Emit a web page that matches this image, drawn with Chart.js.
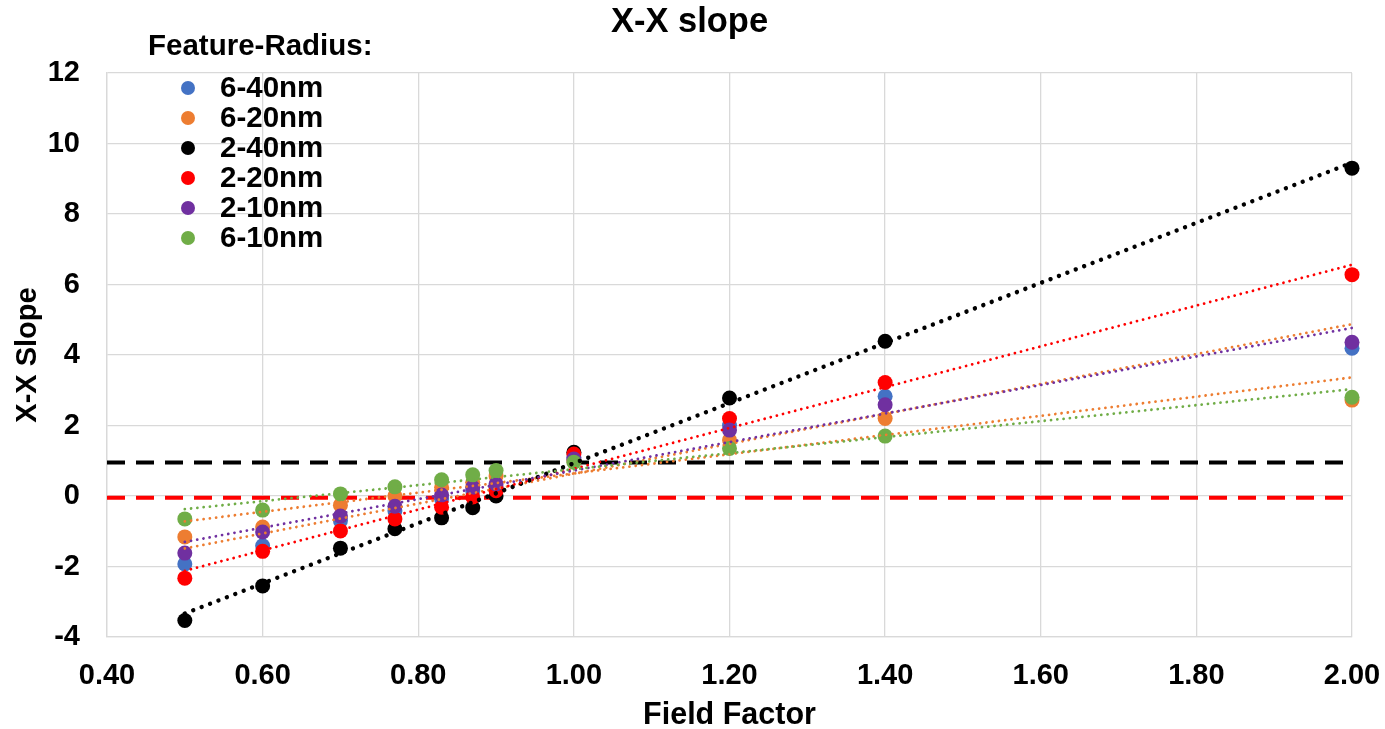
<!DOCTYPE html>
<html>
<head>
<meta charset="utf-8">
<script src="https://cdn.jsdelivr.net/npm/chart.js@4.4.1/dist/chart.umd.min.js"></script>
<style>
  html, body { margin: 0; padding: 0; background: #ffffff; }
  #wrap { width: 1385px; height: 729px; }
</style>
</head>
<body>
<div id="wrap"><canvas id="c" width="1385" height="729"></canvas></div>
<script>
// ---- data ----
const fieldFactor = [0.5, 0.6, 0.7, 0.77, 0.83, 0.87, 0.9, 1.0, 1.2, 1.4, 2.0];
const seriesNames = ['6-40nm', '6-20nm', '2-40nm', '2-20nm', '2-10nm', '6-10nm'];
const s6_40 = [-1.93, -1.41, -0.70, -0.42, -0.08, 0.15, 0.25, 1.10, 2.00, 2.83, 4.19];
const s6_20 = [-1.16, -0.88, -0.26, 0.00, 0.25, 0.39, 0.57, 1.00, 1.59, 2.20, 2.72];
const s2_40 = [-3.53, -2.55, -1.48, -0.93, -0.62, -0.33, 0.00, 1.24, 2.78, 4.39, 9.30];
const s2_20 = [-2.33, -1.57, -0.99, -0.65, -0.32, -0.03, 0.15, 1.19, 2.20, 3.22, 6.28];
const s2_10 = [-1.62, -1.02, -0.57, -0.29, 0.03, 0.25, 0.34, 1.05, 1.87, 2.59, 4.36];
const s6_10 = [-0.65, -0.40, 0.06, 0.26, 0.46, 0.60, 0.72, 0.96, 1.35, 1.70, 2.80];
const seriesValues = [s6_40, s6_20, s2_40, s2_20, s2_10, s6_10];
const markerColors = ['#4472C4', '#ED7D31', '#000000', '#FF0000', '#7030A0', '#70AD47'];
const trendColors  = ['#ED7D31', '#ED7D31', '#000000', '#FF0000', '#7030A0', '#70AD47'];
const refLevelBlack = 0.95;
const refLevelRed = -0.05;
const xTicks = [0.4, 0.6, 0.8, 1.0, 1.2, 1.4, 1.6, 1.8, 2.0];
const yTicks = [-4, -2, 0, 2, 4, 6, 8, 10, 12];

function linreg(xs, ys) {
  const n = xs.length;
  const mx = xs.reduce((a, b) => a + b, 0) / n;
  const my = ys.reduce((a, b) => a + b, 0) / n;
  let sxy = 0, sxx = 0;
  for (let i = 0; i < n; i++) { sxy += (xs[i] - mx) * (ys[i] - my); sxx += (xs[i] - mx) ** 2; }
  const m = sxy / sxx;
  return { m, b: my - m * mx };
}

const datasets = [];
// reference dashed lines (bottom)
datasets.push({
  type: 'line', label: 'ref1', data: [{x: xTicks[0], y: refLevelBlack}, {x: xTicks[xTicks.length-1], y: refLevelBlack}],
  borderColor: '#000000', borderWidth: 4, borderDash: [18, 11], pointRadius: 0, order: 100, fill: false
});
datasets.push({
  type: 'line', label: 'ref2', data: [{x: xTicks[0], y: refLevelRed}, {x: xTicks[xTicks.length-1], y: refLevelRed}],
  borderColor: '#FF0000', borderWidth: 4, borderDash: [18, 11], pointRadius: 0, order: 99, fill: false
});
// markers
seriesValues.forEach((vals, i) => {
  datasets.push({
    type: 'scatter', label: seriesNames[i],
    data: fieldFactor.map((x, j) => ({x, y: vals[j]})),
    backgroundColor: markerColors[i], borderColor: markerColors[i], borderWidth: 0,
    pointRadius: 7.5, pointHoverRadius: 7.5, showLine: false, clip: false, order: 60 - i
  });
});
// linear trendlines
seriesValues.forEach((vals, i) => {
  const r = linreg(fieldFactor, vals);
  const x0 = fieldFactor[0], x1 = fieldFactor[fieldFactor.length - 1];
  const black = markerColors[i] === '#000000';
  datasets.push({
    type: 'line', label: 'trend ' + seriesNames[i],
    data: [{x: x0, y: r.m * x0 + r.b}, {x: x1, y: r.m * x1 + r.b}],
    borderColor: trendColors[i], borderWidth: black ? 4.4 : 2.8,
    borderDash: black ? [0.01, 9] : [0.01, 6.3], borderCapStyle: 'round',
    pointRadius: 0, clip: false, order: 20 - i, fill: false
  });
});

const F = '"Liberation Sans", Arial, sans-serif';

const legendPlugin = {
  id: 'seriesLegend',
  afterDraw(chart) {
    const ctx = chart.ctx;
    ctx.save();
    ctx.font = 'bold 29.5px ' + F;
    ctx.fillStyle = '#000000';
    ctx.textBaseline = 'middle';
    ctx.textAlign = 'left';
    ctx.fillText('Feature-Radius:', 148, 47);
    seriesNames.forEach((name, i) => {
      const y = 88 + i * 30;
      ctx.beginPath();
      ctx.arc(188, y, 7, 0, Math.PI * 2);
      ctx.fillStyle = markerColors[i];
      ctx.fill();
      ctx.fillStyle = '#000000';
      ctx.fillText(name, 220, y + 1);
    });
    ctx.restore();
  }
};

new Chart(document.getElementById('c'), {
  data: { datasets },
  plugins: [legendPlugin],
  options: {
    responsive: false,
    animation: false,
    events: [],
    layout: { padding: { left: 10, right: 16, top: 0, bottom: 0 } },
    plugins: {
      legend: { display: false },
      tooltip: { enabled: false },
      title: {
        display: true, text: 'X-X slope', color: '#000000',
        font: { family: F, size: 34.5, weight: 'bold', lineHeight: 1.2 },
        padding: { top: 2, bottom: 29.6 }
      }
    },
    scales: {
      x: {
        type: 'linear', min: 0.4, max: 2.0,
        afterBuildTicks(s) { s.ticks = xTicks.map(v => ({value: v})); },
        afterFit(s) { s.height = 92; s.paddingRight = 33; s.paddingLeft = 0; },
        grid: { color: '#D9D9D9', lineWidth: 1.3, drawTicks: false },
        border: { color: '#D9D9D9', width: 1.3 },
        ticks: { color: '#000000', padding: 22, maxRotation: 0, font: { family: F, size: 29, weight: 'bold' },
                 callback: v => Number(v).toFixed(2) },
        title: { display: true, text: 'Field Factor', color: '#000000',
                 font: { family: F, size: 30.5, weight: 'bold', lineHeight: 0.9 }, padding: { top: 0, bottom: 0 } }
      },
      y: {
        type: 'linear', min: -4, max: 12,
        afterBuildTicks(s) { s.ticks = yTicks.map(v => ({value: v})); },
        afterFit(s) { s.width = 97; },
        grid: { color: '#D9D9D9', lineWidth: 1.3, drawTicks: false },
        border: { color: '#D9D9D9', width: 1.3 },
        ticks: { color: '#000000', padding: 27, font: { family: F, size: 29, weight: 'bold' } },
        title: { display: true, text: 'X-X Slope', color: '#000000',
                 font: { family: F, size: 29, weight: 'bold', lineHeight: 1 }, padding: { top: 3, bottom: 0 } }
      }
    }
  }
});
</script>
</body>
</html>
